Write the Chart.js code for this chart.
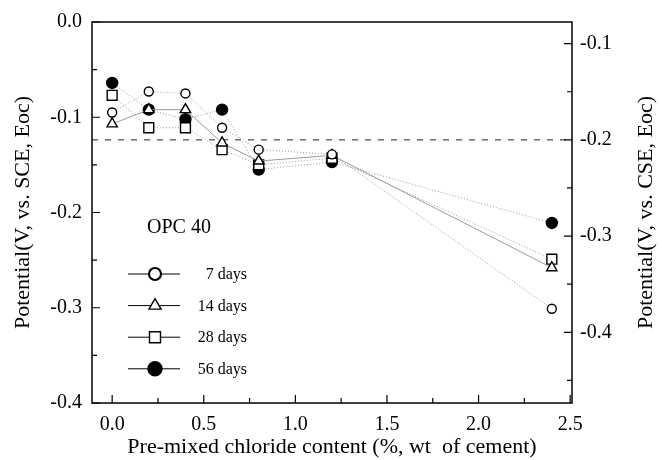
<!DOCTYPE html>
<html>
<head>
<meta charset="utf-8">
<script src="https://cdn.jsdelivr.net/npm/chart.js@4.4.1/dist/chart.umd.min.js"></script>
<style>
  html, body { margin: 0; padding: 0; background: #fff; }
  #wrap { width: 662px; height: 460px; }
</style>
</head>
<body>
<div id="wrap"><canvas id="c" width="662" height="460"></canvas></div>
<script>
// Pre-mixed chloride content (%, wt of cement)
const chloride = [0, 0.2, 0.4, 0.6, 0.8, 1.2, 2.4];

// Potential, V vs. SCE
const days7  = [-0.095, -0.073, -0.075, -0.111, -0.134, -0.139, -0.301];
const days14 = [-0.107, -0.092, -0.092, -0.127, -0.146, -0.140, -0.258];
const days28 = [-0.077, -0.111, -0.111, -0.134, -0.150, -0.143, -0.249];
const days56 = [-0.064, -0.092, -0.102, -0.092, -0.155, -0.147, -0.211];

const seriesNames = ['7 days', '14 days', '28 days', '56 days'];
const groupLabel = 'OPC 40';

// threshold line, V vs. CSE
const refCSE = -0.2;

// axis limits and ticks
const xMin = -0.11, xMax = 2.51;
const yMin = -0.4, yMax = 0.0;
const y2Min = -0.4735, y2Max = -0.0775;
const xTicks = [0, 0.5, 1.0, 1.5, 2.0, 2.5];
const xMinor = [0.25, 0.75, 1.25, 1.75, 2.25];
const yTicks = [0, -0.1, -0.2, -0.3, -0.4];
const yMinor = [-0.05, -0.15, -0.25, -0.35];
const y2Ticks = [-0.1, -0.2, -0.3, -0.4];
const y2Minor = [-0.15, -0.25, -0.35, -0.45];

const SERIF = '"Liberation Serif", "DejaVu Serif", serif';

const toPts = vals => vals.map((v, i) => ({x: chloride[i], y: v}));

const styles = [
    {pointStyle: 'circle',   radius: 4.5, fill: '#fff', dash: [1, 2]},
    {pointStyle: 'triangle', radius: 6,   fill: '#fff', dash: []},
    {pointStyle: 'rect',     radius: 7,   fill: '#fff', dash: [1, 2]},
    {pointStyle: 'circle',   radius: 5.5, fill: '#000', dash: [1, 2]},
];

const datasets = [days7, days14, days28, days56].map((vals, i) => ({
    label: seriesNames[i],
    data: toPts(vals),
    showLine: true,
    borderColor: '#9a9a9a',
    borderWidth: 1,
    borderDash: styles[i].dash,
    pointStyle: styles[i].pointStyle,
    pointRadius: styles[i].radius,
    pointBackgroundColor: styles[i].fill,
    pointBorderColor: '#000',
    pointBorderWidth: 1.4,
    yAxisID: 'y',
}));

datasets.push({
    label: 'CSE -0.2',
    data: [{x: xMin, y: refCSE}, {x: xMax, y: refCSE}],
    showLine: true,
    borderColor: '#222',
    borderWidth: 1,
    borderDash: [6, 7],
    pointRadius: 0,
    yAxisID: 'y2',
});

// open / filled marker used by the in-plot legend
function drawMarker(ctx, style, x, y, r, fill) {
    ctx.beginPath();
    if (style === 'circle') {
        ctx.arc(x, y, r, 0, Math.PI * 2);
    } else if (style === 'triangle') {
        ctx.moveTo(x, y - r);
        ctx.lineTo(x + r * 0.866, y + r * 0.5);
        ctx.lineTo(x - r * 0.866, y + r * 0.5);
        ctx.closePath();
    } else {
        ctx.rect(x - r, y - r, 2 * r, 2 * r);
    }
    ctx.fillStyle = fill;
    ctx.fill();
    ctx.stroke();
}

// frame and inward tick marks
const frameTicks = {
    id: 'frameTicks',
    afterDatasetsDraw(chart) {
        const {ctx, chartArea: a, scales} = chart;
        ctx.save();
        ctx.strokeStyle = '#000';
        ctx.lineWidth = 1.5;
        ctx.strokeRect(a.left, a.top, a.right - a.left, a.bottom - a.top);
        ctx.lineWidth = 1.2;
        ctx.beginPath();
        const xt = (list, len) => list.forEach(v => {
            const px = scales.x.getPixelForValue(v);
            ctx.moveTo(px, a.bottom); ctx.lineTo(px, a.bottom - len);
        });
        const yl = (list, len) => list.forEach(v => {
            const py = scales.y.getPixelForValue(v);
            ctx.moveTo(a.left, py); ctx.lineTo(a.left + len, py);
        });
        const yr = (list, len) => list.forEach(v => {
            const py = scales.y2.getPixelForValue(v);
            ctx.moveTo(a.right, py); ctx.lineTo(a.right - len, py);
        });
        xt(xTicks, 8); xt(xMinor, 5);
        yl(yTicks, 8); yl(yMinor, 5);
        yr(y2Ticks, 8); yr(y2Minor, 5);
        ctx.stroke();
        ctx.restore();
    }
};

// legend inside the plot + right axis title (reads bottom to top)
const legendBox = {
    id: 'legendBox',
    afterDraw(chart) {
        const {ctx, chartArea: a} = chart;
        ctx.save();
        ctx.fillStyle = '#000';
        ctx.textBaseline = 'middle';
        ctx.font = '20px ' + SERIF;
        ctx.textAlign = 'left';
        ctx.fillText(groupLabel, a.left + 55, a.top + 206);

        ctx.font = '16px ' + SERIF;
        ctx.textAlign = 'right';
        const legR = [6, 7, 5.5, 7];
        seriesNames.forEach((name, i) => {
            const y = a.top + 252 + i * 31.6;
            ctx.strokeStyle = '#000';
            ctx.lineWidth = 1;
            ctx.beginPath();
            ctx.moveTo(a.left + 36, y);
            ctx.lineTo(a.left + 88, y);
            ctx.stroke();
            ctx.lineWidth = i === 0 ? 2.2 : 1.4;
            drawMarker(ctx, styles[i].pointStyle, a.left + 63, y, legR[i], styles[i].fill);
            ctx.fillStyle = '#000';
            ctx.fillText(name, a.left + 155, y + 1);
        });

        ctx.font = '22px ' + SERIF;
        ctx.textAlign = 'center';
        ctx.translate(646, (a.top + a.bottom) / 2);
        ctx.rotate(-Math.PI / 2);
        ctx.fillText('Potential(V, vs. CSE, Eoc)', 0, 0);
        ctx.restore();
    }
};

const tickFont = {family: SERIF, size: 20};

new Chart(document.getElementById('c'), {
    type: 'scatter',
    data: {datasets},
    plugins: [frameTicks, legendBox],
    options: {
        responsive: false,
        animation: false,
        layout: {padding: {top: 19, left: 0, right: 0, bottom: 0}},
        plugins: {legend: {display: false}, tooltip: {enabled: false}},
        scales: {
            x: {
                type: 'linear', min: xMin, max: xMax,
                afterBuildTicks: s => { s.ticks = xTicks.map(v => ({value: v})); },
                afterFit: s => { s.height = 57; },
                ticks: {callback: v => v.toFixed(1), font: tickFont, color: '#000', padding: 10, maxRotation: 0, autoSkip: false},
                grid: {display: false, drawTicks: false},
                border: {display: false},
                title: {display: true, text: 'Pre-mixed chloride content (%, wt  of cement)',
                        font: {family: SERIF, size: 22}, color: '#000', padding: {top: 0, bottom: 0}},
            },
            y: {
                type: 'linear', position: 'left', min: yMin, max: yMax,
                afterBuildTicks: s => { s.ticks = yTicks.map(v => ({value: v})); },
                afterFit: s => { s.width = 92; },
                ticks: {callback: v => v.toFixed(1), font: tickFont, color: '#000', padding: 10, autoSkip: false},
                grid: {display: false, drawTicks: false},
                border: {display: false},
                title: {display: true, text: 'Potential(V, vs. SCE, Eoc)',
                        font: {family: SERIF, size: 22}, color: '#000', padding: {top: 10, bottom: 0}},
            },
            y2: {
                type: 'linear', position: 'right', min: y2Min, max: y2Max,
                afterBuildTicks: s => { s.ticks = y2Ticks.map(v => ({value: v})); },
                afterFit: s => { s.width = 90; },
                ticks: {callback: v => v.toFixed(1), font: tickFont, color: '#000', padding: 8, autoSkip: false},
                grid: {display: false, drawTicks: false},
                border: {display: false},
            },
        },
    },
});
</script>
</body>
</html>
